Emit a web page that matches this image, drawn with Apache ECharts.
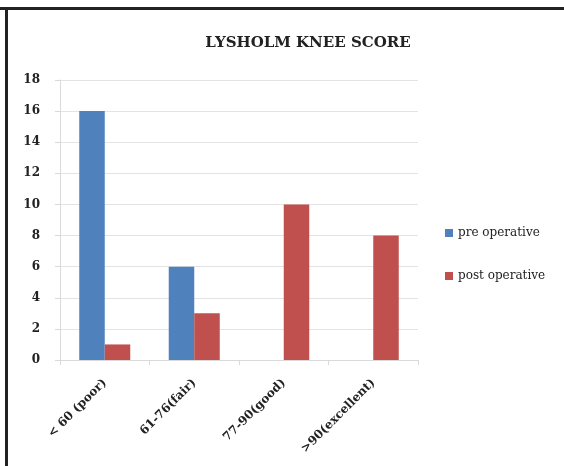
<!DOCTYPE html>
<html><head><meta charset="utf-8">
<script src="https://cdn.jsdelivr.net/npm/echarts@6/dist/echarts.min.js"></script>
<style>html,body{margin:0;padding:0;background:#fff}#c{width:564px;height:466px}</style>
</head><body><div id="c"></div>
<script>
const categories = ['< 60 (poor)', '61-76(fair)', '77-90(good)', '>90(excellent)'];
const preOperative = [16, 6, 0, 0];
const postOperative = [1, 3, 10, 8];
const yTicks = [0, 2, 4, 6, 8, 10, 12, 14, 16, 18];

const chart = echarts.init(document.getElementById('c'));
const serif = '"DejaVu Serif", "Liberation Serif", serif';
chart.setOption({
  animation: false,
  title: {
    text: 'LYSHOLM KNEE SCORE', left: 303, top: 31, textAlign: 'center',
    textStyle: { fontFamily: serif, fontSize: 15, fontWeight: 'bold', color: '#222' }
  },
  legend: {
    orient: 'vertical', left: 440, top: 222, itemGap: 31,
    itemWidth: 8, itemHeight: 8, icon: 'rect',
    textStyle: { fontFamily: serif, fontSize: 12, color: '#222' },
    data: ['pre operative', 'post operative']
  },
  grid: { left: 60, right: 146, top: 80, bottom: 106, containLabel: false },
  xAxis: {
    type: 'category', data: categories,
    axisLine: { lineStyle: { color: '#d9d9d9' } },
    axisTick: { show: true, lineStyle: { color: '#d9d9d9' } },
    axisLabel: { rotate: 45, interval: 0, margin: 21, fontFamily: serif, fontSize: 12, fontWeight: 'bold', color: '#222' }
  },
  yAxis: {
    type: 'value', min: yTicks[0], max: yTicks[yTicks.length - 1], interval: 2,
    axisLine: { show: true, lineStyle: { color: '#d9d9d9' } },
    axisTick: { show: true, lineStyle: { color: '#d9d9d9' } },
    splitLine: { lineStyle: { color: '#e3e3e3' } },
    axisLabel: { margin: 20, fontFamily: serif, fontSize: 12, fontWeight: 'bold', color: '#222' }
  },
  series: [
    { name: 'pre operative', type: 'bar', data: preOperative, barGap: '0%', barCategoryGap: '43%', itemStyle: { color: '#4F81BD' } },
    { name: 'post operative', type: 'bar', data: postOperative, barGap: '0%', barCategoryGap: '43%', itemStyle: { color: '#C0504D' } }
  ],
  graphic: [
    { type: 'line', shape: { x1: 0, y1: 8.5, x2: 564, y2: 8.5 }, style: { stroke: '#222', lineWidth: 3 } },
    { type: 'line', shape: { x1: 6.5, y1: 7, x2: 6.5, y2: 466 }, style: { stroke: '#222', lineWidth: 3 } }
  ]
});
</script></body></html>
